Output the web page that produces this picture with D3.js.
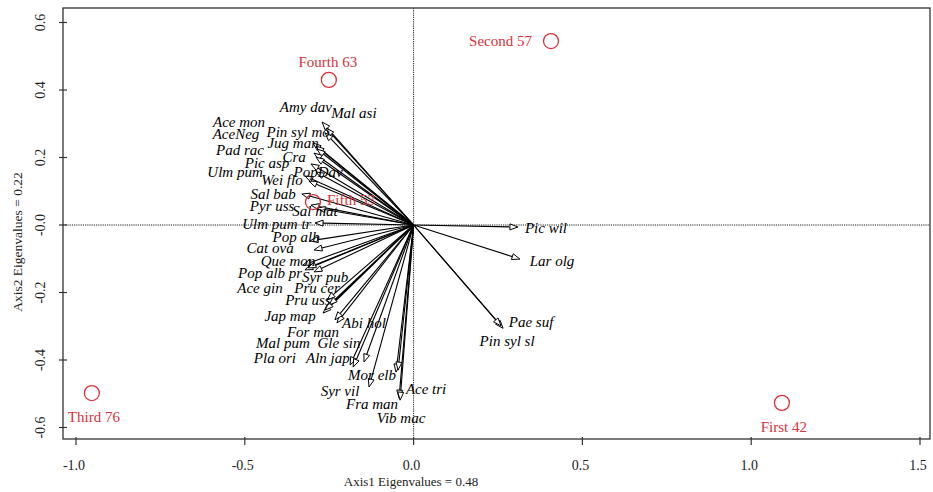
<!DOCTYPE html>
<html>
<head>
<meta charset="utf-8">
<script src="https://cdn.jsdelivr.net/npm/d3@7"></script>
<style>
  html, body { margin: 0; padding: 0; background: #fff; }
  svg { display: block; }
</style>
</head>
<body>
<svg id="chart" width="933" height="492"></svg>
<script>
// ---------------- data ----------------
const species = ["Amy dav","Mal asi","Ace mon","Pin syl mo","AceNeg","Jug man","Pad rac","Cra","Pic asp","Ulm pum","PopDav","Wei flo","Sal bab","Pyr uss","Sal mat",
  "Ulm pum tr","Pop alb","Cat ova","Que mon","Pop alb pr","Syr pub","Ace gin","Pru cer","Pru uss","Jap map","Abi hol","For man","Mal pum","Gle sin","Pla ori","Aln jap","Mor elb","Syr vil","Ace tri","Fra man","Vib mac",
  "Pic wil","Lar olg","Pae suf","Pin syl sl"];
// arrow tip scores (Axis1, Axis2)
const speciesX = [-0.271,-0.259,-0.298,-0.262,-0.289,-0.286,-0.295,-0.289,-0.304,-0.322,-0.289,-0.310,-0.331,-0.304,-0.286,
  -0.292,-0.307,-0.295,-0.328,-0.322,-0.295,-0.313,-0.256,-0.250,-0.268,-0.227,-0.233,-0.262,-0.147,-0.188,-0.179,-0.052,-0.132,-0.046,-0.043,-0.040,
  0.309,0.315,0.265,0.259];
const speciesY = [0.305,0.287,0.243,0.273,0.234,0.225,0.213,0.201,0.181,0.145,0.157,0.130,0.092,0.059,0.050,
  0.006,-0.047,-0.074,-0.119,-0.133,-0.139,-0.127,-0.222,-0.237,-0.261,-0.290,-0.281,-0.252,-0.406,-0.415,-0.421,-0.436,-0.480,-0.430,-0.513,-0.519,
  -0.006,-0.101,-0.306,-0.299];
// label anchor scores (Axis1, Axis2)
const labelX = [-0.319,-0.177,-0.517,-0.342,-0.526,-0.357,-0.514,-0.354,-0.434,-0.529,-0.283,-0.390,-0.416,-0.419,-0.292,
  -0.405,-0.348,-0.425,-0.372,-0.425,-0.262,-0.455,-0.286,-0.313,-0.366,-0.147,-0.298,-0.387,-0.221,-0.411,-0.254,-0.123,-0.218,0.037,-0.123,-0.037,
  0.392,0.410,0.348,0.277];
const labelY = [0.350,0.332,0.305,0.276,0.270,0.243,0.222,0.201,0.184,0.157,0.157,0.133,0.092,0.056,0.041,
  0.003,-0.036,-0.068,-0.107,-0.142,-0.154,-0.187,-0.187,-0.222,-0.270,-0.290,-0.317,-0.350,-0.350,-0.394,-0.394,-0.444,-0.492,-0.486,-0.530,-0.572,
  -0.009,-0.107,-0.287,-0.344];

const sites = ["Second 57","Fourth 63","Fifth 53","Third 76","First 42"];
const siteX = [0.407,-0.251,-0.298,-0.953,1.091];
const siteY = [0.545,0.430,0.068,-0.498,-0.527];
const sitePos = ["left","above","right","below","below"];

const xTicks = [-1.0,-0.5,0.0,0.5,1.0,1.5];
const xTickLabels = ["-1.0","-0.5","0.0","0.5","1.0","1.5"];
const yTicks = [0.6,0.4,0.2,0.0,-0.2,-0.4,-0.6];
const yTickLabels = ["0.6","0.4","0.2","-0.0","-0.2","-0.4","-0.6"];
const xTitle = "Axis1 Eigenvalues = 0.48";
const yTitle = "Axis2 Eigenvalues = 0.22";

// ---------------- layout ----------------
const svg = d3.select("#chart");
const box = {left: 63, top: 8, right: 930, bottom: 439};
const x = d3.scaleLinear().domain([-1, 1.5]).range([76, 920]);
const y = d3.scaleLinear().domain([-0.6, 0.6]).range([427.5, 22.5]);
const serif = "'Liberation Serif','Times New Roman',Times,serif";
const red = "#d9313a";

// reference lines (dotted)
svg.append("line").attr("x1", x(0)).attr("x2", x(0)).attr("y1", box.top).attr("y2", box.bottom)
  .attr("stroke", "#222").attr("stroke-width", 1).attr("stroke-dasharray", "1.2,1");
svg.append("line").attr("x1", box.left).attr("x2", box.right).attr("y1", y(0)).attr("y2", y(0))
  .attr("stroke", "#222").attr("stroke-width", 1).attr("stroke-dasharray", "1.2,1");

// arrows
const headLen = 8, headHalf = 3;
const ox = x(0), oy = y(0);
const gA = svg.append("g");
species.forEach((s, i) => {
  const tx = x(speciesX[i]), ty = y(speciesY[i]);
  const dx = tx - ox, dy = ty - oy, L = Math.hypot(dx, dy);
  const ux = dx / L, uy = dy / L;
  const bx = tx - ux * headLen, by = ty - uy * headLen;
  gA.append("line").attr("x1", ox).attr("y1", oy).attr("x2", bx).attr("y2", by)
    .attr("stroke", "#000").attr("stroke-width", 1.1);
});
species.forEach((s, i) => {
  const tx = x(speciesX[i]), ty = y(speciesY[i]);
  const dx = tx - ox, dy = ty - oy, L = Math.hypot(dx, dy);
  const ux = dx / L, uy = dy / L;
  const bx = tx - ux * headLen, by = ty - uy * headLen;
  const pts = [[tx, ty], [bx - uy * headHalf, by + ux * headHalf], [bx + uy * headHalf, by - ux * headHalf]];
  gA.append("polygon").attr("points", pts.map(p => p.join(",")).join(" "))
    .attr("fill", "#fff").attr("stroke", "#000").attr("stroke-width", 1);
});

// species labels
svg.append("g").selectAll("text").data(species).join("text")
  .attr("x", (d, i) => x(labelX[i]))
  .attr("y", (d, i) => y(labelY[i]))
  .attr("dy", "0.33em")
  .attr("text-anchor", "middle")
  .attr("font-family", serif).attr("font-style", "italic").attr("font-size", 15)
  .attr("fill", "#000")
  .text(d => d);

// sites
const gS = svg.append("g");
sites.forEach((s, i) => {
  const cx = x(siteX[i]), cy = y(siteY[i]);
  gS.append("circle").attr("cx", cx).attr("cy", cy).attr("r", 7.5)
    .attr("fill", "none").attr("stroke", red).attr("stroke-width", 1.3);
  const t = gS.append("text").attr("font-family", serif).attr("font-size", 15).attr("fill", red).text(s);
  const p = sitePos[i];
  if (p === "left") t.attr("x", cx - 19).attr("y", cy + 5).attr("text-anchor", "end");
  else if (p === "right") t.attr("x", cx + 14).attr("y", cy + 3).attr("text-anchor", "start");
  else if (p === "above") t.attr("x", cx - 1).attr("y", cy - 13).attr("text-anchor", "middle");
  else t.attr("x", cx + 2).attr("y", cy + 29).attr("text-anchor", "middle");
});

// frame
svg.append("rect").attr("x", box.left).attr("y", box.top)
  .attr("width", box.right - box.left).attr("height", box.bottom - box.top)
  .attr("fill", "none").attr("stroke", "#333").attr("stroke-width", 1.3);

// x ticks
const gx = svg.append("g");
xTicks.forEach((v, i) => {
  gx.append("line").attr("x1", x(v)).attr("x2", x(v)).attr("y1", box.bottom - 2).attr("y2", box.bottom + 6)
    .attr("stroke", "#333").attr("stroke-width", 1.2);
  gx.append("text").attr("x", x(v) - 2).attr("y", 470).attr("text-anchor", "middle")
    .attr("font-family", serif).attr("font-size", 14).attr("fill", "#222").text(xTickLabels[i]);
});
// y ticks
const gy = svg.append("g");
yTicks.forEach((v, i) => {
  gy.append("line").attr("x1", box.left - 4).attr("x2", box.left + 4).attr("y1", y(v)).attr("y2", y(v))
    .attr("stroke", "#333").attr("stroke-width", 1.2);
  gy.append("text").attr("transform", `translate(45,${y(v)}) rotate(-90)`).attr("text-anchor", "middle")
    .attr("font-family", serif).attr("font-size", 14).attr("fill", "#222").text(yTickLabels[i]);
});
// titles
svg.append("text").attr("x", 411).attr("y", 486).attr("text-anchor", "middle")
  .attr("font-family", serif).attr("font-size", 13).attr("fill", "#222").text(xTitle);
svg.append("text").attr("transform", "translate(22,242) rotate(-90)").attr("text-anchor", "middle")
  .attr("font-family", serif).attr("font-size", 13.5).attr("fill", "#222").text(yTitle);
</script>
</body>
</html>
